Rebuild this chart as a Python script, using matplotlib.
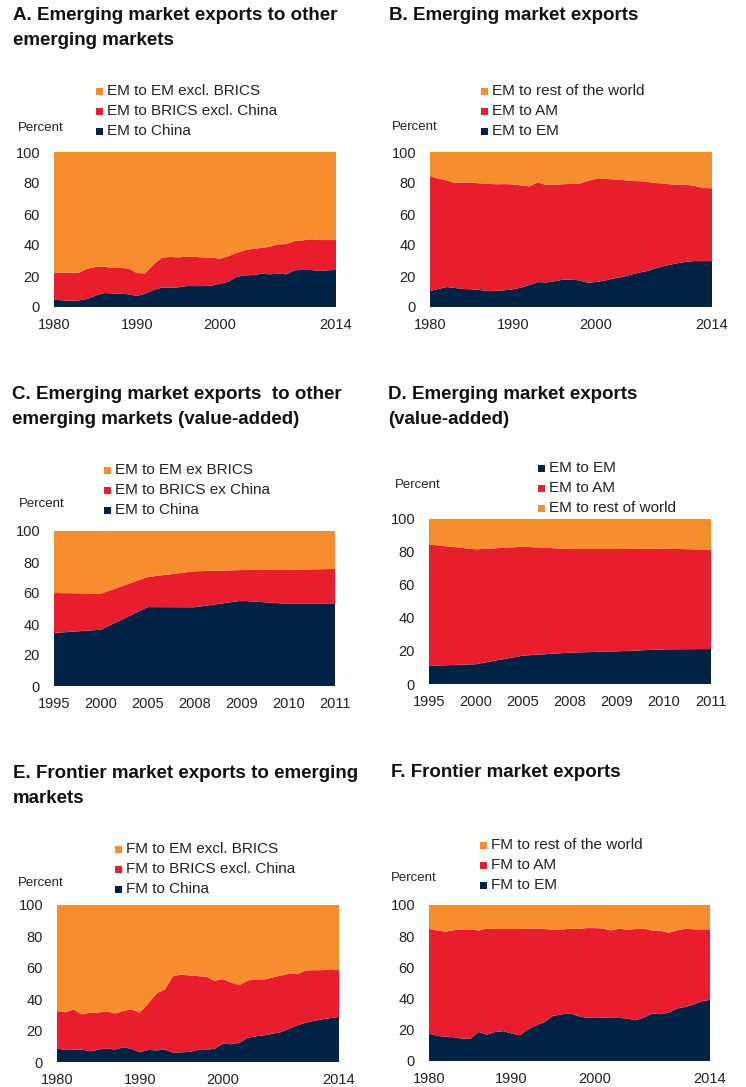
import numpy as np
import matplotlib
matplotlib.use("Agg")
import matplotlib.pyplot as plt
from matplotlib.patches import Rectangle

plt.rcParams['font.family'] = ['Liberation Sans', 'DejaVu Sans']

NAVY = '#002244'
RED = '#EA1D2F'
ORANGE = '#F68E2E'

years = list(range(1980, 2015))
va_years = ['1995', '2000', '2005', '2008', '2009', '2010', '2011']

# A: EM to China, and EM to China + BRICS excl. China (cumulative)
a_china = [4.7, 4.3, 4.1, 4.3, 5.2, 7.3, 9.0, 8.8, 8.6, 8.2, 7.1, 8.6, 11.0, 12.5, 12.5, 12.7, 13.5, 13.5,
           13.5, 13.8, 15.0, 16.3, 19.4, 20.4, 20.6, 21.5, 21.1, 21.5, 21.1, 23.7, 23.9, 23.9, 23.2, 23.7, 23.9]
a_brics = [22.2, 22.2, 22.2, 22.2, 24.7, 25.8, 26.2, 25.2, 25.2, 24.9, 21.9, 21.7, 27.5, 31.8, 32.3, 32.0, 32.5, 32.3,
           32.0, 31.8, 31.2, 32.7, 34.8, 36.6, 37.6, 38.1, 38.9, 40.4, 40.6, 42.6, 43.0, 43.7, 43.2, 43.2, 43.2]

# B: EM to EM, and EM to EM + AM (cumulative)
b_em = [10.3, 11.6, 12.9, 12.3, 11.6, 11.4, 11.0, 10.3, 10.5, 10.8, 11.4, 12.5, 14.3, 16.1, 15.8, 16.6, 17.6, 17.6,
        17.2, 15.7, 16.1, 17.0, 18.3, 19.1, 20.5, 21.9, 23.0, 24.6, 26.2, 27.3, 28.4, 29.2, 29.7, 29.7, 29.7]
b_am = [84.5, 82.8, 81.7, 80.0, 80.4, 80.2, 79.8, 79.4, 79.2, 79.3, 79.1, 78.4, 77.8, 80.4, 78.7, 78.9, 79.2, 79.4,
        79.6, 81.3, 82.6, 82.6, 82.4, 82.0, 81.5, 81.2, 81.0, 80.0, 79.8, 79.1, 79.0, 78.9, 78.0, 76.8, 76.6]

# C: value-added, EM to China, and EM to China + BRICS ex China (cumulative)
c_china = [34.2, 36.3, 50.9, 50.8, 55.0, 53.0, 53.0]
c_brics = [60.0, 59.6, 70.3, 74.0, 74.8, 75.0, 75.5]

# D: value-added, EM to EM, and EM to EM + AM (cumulative)
d_em = [11.0, 12.0, 17.2, 19.0, 19.8, 21.0, 21.2]
d_am = [84.6, 81.6, 83.2, 81.8, 81.8, 82.0, 81.4]

# E: FM to China, and FM to China + BRICS excl. China (cumulative)
e_china = [8.5, 7.7, 7.7, 8.0, 6.8, 7.9, 8.7, 7.9, 9.4, 8.3, 6.2, 7.7, 7.4, 7.9, 6.0, 6.2, 6.4, 7.7,
           7.7, 8.5, 11.7, 11.3, 12.3, 15.5, 16.4, 17.0, 18.0, 19.0, 21.3, 23.4, 25.0, 26.2, 27.2, 28.0, 28.7]
e_brics = [32.5, 31.7, 33.4, 30.4, 31.5, 31.5, 32.3, 30.9, 32.5, 33.6, 31.5, 37.2, 43.6, 46.2, 54.7, 55.7, 55.1, 54.7,
           54.3, 51.7, 52.8, 50.6, 49.1, 51.9, 52.6, 52.6, 53.8, 55.1, 56.2, 56.0, 58.3, 58.5, 58.5, 59.1, 58.7]

# F: FM to EM, and FM to EM + AM (cumulative)
f_em = [17.6, 16.1, 15.6, 15.2, 14.3, 14.3, 18.6, 16.9, 18.6, 19.1, 17.6, 16.5, 20.3, 22.9, 25.0, 28.9, 29.8, 30.6,
        28.9, 27.8, 27.6, 27.8, 27.6, 27.6, 27.2, 26.1, 27.8, 30.4, 30.0, 31.0, 33.6, 34.7, 36.2, 38.3, 39.2]
f_am = [84.6, 83.7, 82.9, 83.9, 84.2, 84.4, 83.7, 85.0, 84.6, 84.6, 84.6, 84.6, 84.8, 85.0, 84.6, 84.2, 84.2, 84.8,
        84.6, 85.2, 85.2, 85.0, 83.7, 84.8, 84.2, 84.6, 84.8, 83.7, 83.5, 82.2, 83.7, 84.8, 84.4, 84.4, 84.4]

W, H = 746, 1087
fig = plt.figure(figsize=(W / 100, H / 100), dpi=100)


def fx(px):
    return px / W


def fy(py):
    return 1 - py / H


def panel(box, x, low, mid, xticks, xlabels):
    l, t, r, b = box
    ax = fig.add_axes([fx(l), fy(b), fx(r - l), (b - t) / H])
    low = np.array(low)
    mid = np.array(mid)
    ax.stackplot(x, low, mid - low, 100 - mid, colors=[NAVY, RED, ORANGE], linewidth=0)
    ax.set_xlim(x[0], x[-1])
    ax.set_ylim(0, 100)
    ax.set_yticks([0, 20, 40, 60, 80, 100])
    ax.set_xticks(xticks)
    ax.set_xticklabels(xlabels)
    for s in ax.spines.values():
        s.set_visible(False)
    ax.tick_params(length=0, labelsize=10.5, colors='#222222')
    ax.tick_params(axis='y', pad=10)
    ax.tick_params(axis='x', pad=8)
    return ax


def title(x, y, lines):
    for i, s in enumerate(lines):
        fig.text(fx(x), fy(y + 25 * i), s, fontsize=13.5, fontweight='bold', va='top', ha='left', color='#111111')


def legend(x, y, items):
    for i, (lab, col) in enumerate(items):
        cy = y + 20 * i
        fig.patches.append(Rectangle((fx(x), fy(cy + 3.5)), 7 / W, 7 / H, transform=fig.transFigure,
                                     facecolor=col, edgecolor='none'))
        fig.text(fx(x + 11), fy(cy), lab, fontsize=11, va='center', ha='left', color='#222222')


def percent(x, y):
    fig.text(fx(x), fy(y), 'Percent', fontsize=9.5, va='center', ha='left', color='#222222')


# A
panel((54, 152, 336, 307), years, a_china, a_brics, [1980, 1990, 2000, 2014], ['1980', '1990', '2000', '2014'])
title(13, 7, ['A. Emerging market exports to other', 'emerging markets'])
legend(96, 91, [('EM to EM excl. BRICS', ORANGE), ('EM to BRICS excl. China', RED), ('EM to China', NAVY)])
percent(18, 128)

# B
panel((430, 152, 712, 307), years, b_em, b_am, [1980, 1990, 2000, 2014], ['1980', '1990', '2000', '2014'])
title(389, 7, ['B. Emerging market exports'])
legend(481, 91, [('EM to rest of the world', ORANGE), ('EM to AM', RED), ('EM to EM', NAVY)])
percent(392, 127)

# C
xc = list(range(len(va_years)))
panel((54, 531, 335, 686), xc, c_china, c_brics, xc, va_years)
title(12, 386, ['C. Emerging market exports  to other', 'emerging markets (value-added)'])
legend(104, 470, [('EM to EM ex BRICS', ORANGE), ('EM to BRICS ex China', RED), ('EM to China', NAVY)])
percent(19, 504)

# D
panel((429, 519, 711, 684), xc, d_em, d_am, xc, va_years)
title(388, 386, ['D. Emerging market exports', '(value-added)'])
legend(538, 468, [('EM to EM', NAVY), ('EM to AM', RED), ('EM to rest of world', ORANGE)])
percent(395, 485)

# E
panel((57, 905, 339, 1062), years, e_china, e_brics, [1980, 1990, 2000, 2014], ['1980', '1990', '2000', '2014'])
title(13, 765, ['E. Frontier market exports to emerging', 'markets'])
legend(115, 849, [('FM to EM excl. BRICS', ORANGE), ('FM to BRICS excl. China', RED), ('FM to China', NAVY)])
percent(18, 883)

# F
panel((429, 905, 710, 1061), years, f_em, f_am, [1980, 1990, 2000, 2014], ['1980', '1990', '2000', '2014'])
title(391, 764, ['F. Frontier market exports'])
legend(480, 845, [('FM to rest of the world', ORANGE), ('FM to AM', RED), ('FM to EM', NAVY)])
percent(391, 878)

fig.savefig('out.png', dpi=100)
